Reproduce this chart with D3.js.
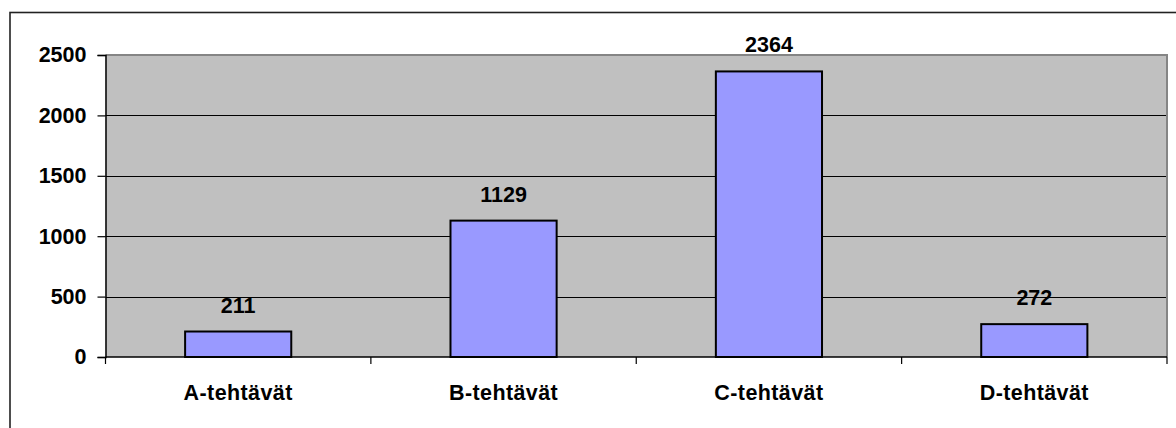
<!DOCTYPE html>
<html>
<head>
<meta charset="utf-8">
<script src="https://cdn.jsdelivr.net/npm/d3@7"></script>
<style>
  html, body { margin: 0; padding: 0; background: #fff; }
  svg { display: block; }
  text { font-family: "Liberation Sans", Arial, sans-serif; font-weight: bold; fill: #000; }
</style>
</head>
<body>
<svg id="chart" width="1176" height="428"></svg>
<script>
// Task counts per category
const categories = ["A-tehtävät", "B-tehtävät", "C-tehtävät", "D-tehtävät"];
const counts = [211, 1129, 2364, 272];
const yTicks = [0, 500, 1000, 1500, 2000, 2500];

const W = 1176, H = 428;
const plot = { left: 105.5, right: 1167, top: 55, bottom: 357 };

const svg = d3.select("#chart");

// Outer chart frame (runs past the right and bottom edges)
svg.append("rect")
  .attr("x", 10).attr("y", 12.5)
  .attr("width", W + 20).attr("height", H + 20)
  .attr("fill", "#fff")
  .attr("stroke", "#222").attr("stroke-width", 1.6);

const x = d3.scaleBand()
  .domain(categories)
  .range([plot.left, plot.right])
  .padding(0);

const y = d3.scaleLinear()
  .domain([0, 2500])
  .range([plot.bottom, plot.top]);

// Plot background
svg.append("rect")
  .attr("x", plot.left).attr("y", plot.top)
  .attr("width", plot.right - plot.left)
  .attr("height", plot.bottom - plot.top)
  .attr("fill", "#C0C0C0");

// Horizontal gridlines
svg.append("g")
  .selectAll("line")
  .data(yTicks.filter(d => d > 0 && d < 2500))
  .join("line")
  .attr("x1", plot.left).attr("x2", plot.right)
  .attr("y1", d => Math.round(y(d)) + 0.5)
  .attr("y2", d => Math.round(y(d)) + 0.5)
  .attr("stroke", "#000").attr("stroke-width", 1);

// Top and right edges of the plot area
svg.append("path")
  .attr("d", `M${plot.left},${plot.top} H${plot.right} V${plot.bottom}`)
  .attr("fill", "none")
  .attr("stroke", "#858585").attr("stroke-width", 2);

// Bars: 40% of each category band, centred
const barW = x.bandwidth() * 0.4;
svg.append("g")
  .selectAll("rect")
  .data(categories)
  .join("rect")
  .attr("x", (d) => x(d) + (x.bandwidth() - barW) / 2)
  .attr("y", (d, i) => y(counts[i]))
  .attr("width", barW)
  .attr("height", (d, i) => y(0) - y(counts[i]))
  .attr("fill", "#9999FF")
  .attr("stroke", "#000").attr("stroke-width", 2);

// Value labels above bars
svg.append("g")
  .selectAll("text")
  .data(categories)
  .join("text")
  .attr("x", d => x(d) + x.bandwidth() / 2)
  .attr("y", (d, i) => y(counts[i]) - 19)
  .attr("text-anchor", "middle")
  .attr("font-size", "21.5px")
  .text((d, i) => counts[i]);

// Y axis
const yAxis = d3.axisLeft(y)
  .tickValues(yTicks)
  .tickSize(8)
  .tickPadding(11)
  .tickFormat(d3.format("d"));
const gy = svg.append("g")
  .attr("transform", `translate(${plot.left},0)`)
  .call(yAxis);
gy.select(".domain").attr("stroke", "#000").attr("stroke-width", 1.5);
gy.selectAll(".tick line").attr("stroke", "#000").attr("stroke-width", 1.2);
gy.selectAll(".tick text")
  .attr("font-size", "21.5px")
  .attr("font-family", "'Liberation Sans', Arial, sans-serif")
  .attr("font-weight", "bold")
  .attr("fill", "#000");

// X axis baseline and category separators
svg.append("line")
  .attr("x1", plot.left).attr("x2", plot.right)
  .attr("y1", plot.bottom).attr("y2", plot.bottom)
  .attr("stroke", "#000").attr("stroke-width", 1.5);
const bounds = categories.map(d => x(d)).concat([plot.right]);
svg.append("g")
  .selectAll("line")
  .data(bounds)
  .join("line")
  .attr("x1", d => d).attr("x2", d => d)
  .attr("y1", plot.bottom).attr("y2", plot.bottom + 7)
  .attr("stroke", "#000").attr("stroke-width", 1.2);

// Category labels
svg.append("g")
  .selectAll("text")
  .data(categories)
  .join("text")
  .attr("x", d => x(d) + x.bandwidth() / 2)
  .attr("y", 399.5)
  .attr("text-anchor", "middle")
  .attr("font-size", "21.5px")
  .attr("letter-spacing", "0.4px")
  .text(d => d);
</script>
</body>
</html>
